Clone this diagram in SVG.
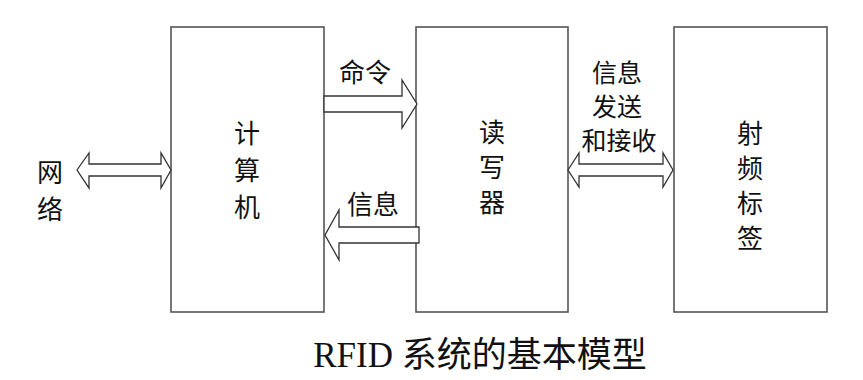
<svg xmlns="http://www.w3.org/2000/svg" width="863" height="380" viewBox="0 0 863 380">
<style>
.box{fill:#fff;stroke:#555;stroke-width:1.6}
.arr{fill:#fff;stroke:#333;stroke-width:1.3;stroke-linejoin:miter}
.t{font-family:"Noto Sans CJK SC","Noto Sans",sans-serif;font-size:26px;fill:#111;text-anchor:middle;dominant-baseline:central}
.s{font-size:25px}
.title{font-family:"Liberation Serif","Noto Sans CJK SC",serif;font-size:35px;fill:#111;text-anchor:middle}
</style>
<rect width="863" height="380" fill="#fff"/>
<g id="computer">
<rect class="box" x="171" y="27" width="153" height="285"/>
<text class="t" x="247" y="131">计</text>
<text class="t" x="247" y="168">算</text>
<text class="t" x="247" y="205">机</text>
</g>
<g id="reader">
<rect class="box" x="416" y="27" width="152" height="285"/>
<text class="t" x="492" y="130">读</text>
<text class="t" x="492" y="165">写</text>
<text class="t" x="492" y="200">器</text>
</g>
<g id="tag">
<rect class="box" x="674" y="27" width="153" height="285"/>
<text class="t" x="750" y="131">射</text>
<text class="t" x="750" y="166">频</text>
<text class="t" x="750" y="201">标</text>
<text class="t" x="750" y="236">签</text>
</g>
<g id="network">
<text class="t" x="50" y="170">网</text>
<text class="t" x="50" y="207">络</text>
</g>
<g id="connectors">
<polygon class="arr" points="77,170 89,153 89,164 161,164 161,153 171,170 161,188 161,176 89,176 89,188"/>
<polygon class="arr" points="324,96 402,96 402,80 417,104 402,128 402,112 324,112"/>
<polygon class="arr" points="419,227 339,227 339,210 325,235 339,260 339,243 419,243"/>
<polygon class="arr" points="568,170 579,153 579,164 663,164 663,153 673,170 663,187 663,176 579,176 579,187"/>
<text class="t" x="365" y="70">命令</text>
<text class="t" x="373" y="202">信息</text>
<text class="t s" x="617" y="71">信息</text>
<text class="t s" x="617" y="105">发送</text>
<text class="t s" x="619" y="139">和接收</text>
</g>
<text class="title" x="480" y="367">RFID 系统的基本模型</text>
</svg>
